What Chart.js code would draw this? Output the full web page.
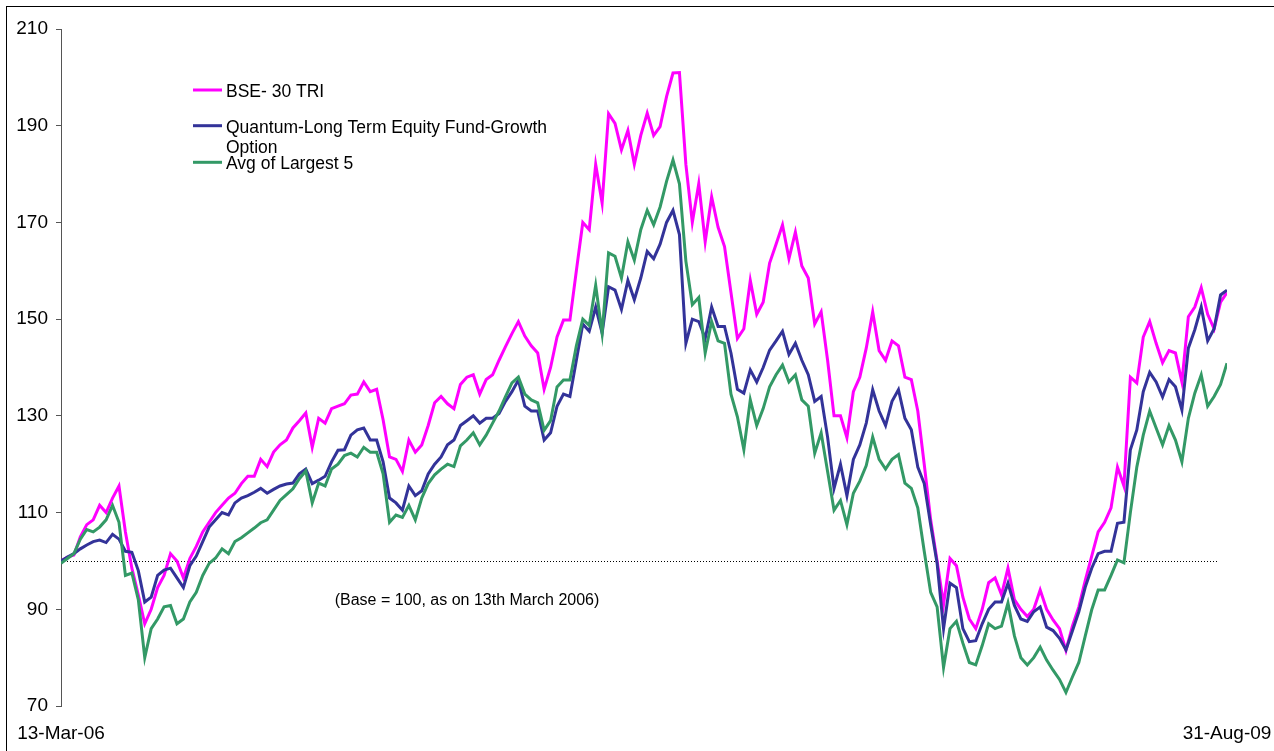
<!DOCTYPE html>
<html>
<head>
<meta charset="utf-8">
<script src="https://cdn.jsdelivr.net/npm/chart.js@4.4.1/dist/chart.umd.min.js"></script>
<style>
html, body { margin: 0; padding: 0; background: #fff; }
</style>
</head>
<body>
<canvas id="navChart" width="1274" height="751"></canvas>
<script>
// weekly index values, 13-Mar-06 .. 31-Aug-09 (base = 100)
const xTickLabels = ["13-Mar-06", "31-Aug-09"];

const seriesNames = [
  "BSE- 30 TRI",
  "Quantum-Long Term Equity Fund-Growth Option",
  "Avg of Largest 5"
];

const bse = [
  100, 100.8, 101.2, 105, 107.5, 108.5, 111.5, 110, 113, 115.5,
  106, 98.5, 93, 87, 90, 94.5, 97, 101.5, 100, 96.5,
  100.5, 103, 106, 108, 110, 111.5, 113, 114, 116, 117.5,
  117.5, 121, 119.5, 122.5, 124, 125, 127.5, 129, 130.6, 123.5,
  129.5, 128.5, 131.5, 132, 132.5, 134.3, 134.5, 137, 135, 135.5,
  129.2, 121.5, 121, 118.5, 125, 122.5, 124, 128, 132.7, 134,
  132.5, 131.5, 136.5, 138, 138.5, 134.5, 137.5, 138.5, 141.5, 144.3,
  147, 149.5, 146.5, 144.5, 143, 135.5, 140, 146.3, 149.8, 149.8,
  160, 170, 168.5, 182, 174, 192.5, 190.5, 185, 189, 182,
  188, 192.6, 188, 189.8, 196, 200.9, 201, 182, 170, 178,
  166, 175.3, 169, 165, 155.5, 146, 148, 158, 151, 153.5,
  161.6, 165.5, 169.5, 162.5, 168, 161, 158.5, 149, 151.5, 141.5,
  130, 130, 125.5, 135, 138, 144, 151.5, 143.5, 141.5, 145.5,
  144.5, 138, 137.5, 131, 120, 108.5, 100, 91, 100.5, 99,
  92.5, 88, 86, 90, 95.5, 96.5, 93, 98.5, 92, 90,
  88.5, 90, 94, 90, 87.8, 86, 81.5, 86.5, 90.5, 96,
  101, 106, 108, 111, 119.4, 115.5, 138, 136.8, 146.3, 149.5,
  145, 141, 143.5, 143, 137, 150.5, 152.5, 156.5, 151, 148,
  153.5, 155.5
];

const quantum = [
  100, 100.8, 101.5, 102.5, 103.3, 104, 104.3, 103.8, 105.5, 104.5,
  102, 101.8, 98, 91.5, 92.5, 97, 98.1, 98.5, 96.5, 94.5,
  99, 101, 104, 107, 108.5, 110, 109.5, 112, 113, 113.5,
  114.2, 115, 114, 114.8, 115.5, 115.9, 116.1, 118, 119, 116,
  116.7, 117.5, 120.5, 122.9, 123, 126, 127.1, 127.5, 125, 125,
  120.5, 113, 112, 110.5, 115.5, 113.5, 114.5, 118, 120, 121.5,
  124, 125, 128, 129, 130, 128.5, 129.5, 129.5, 130.5, 133,
  135, 137.4, 132, 131, 131, 125, 126.5, 132, 134.5, 134,
  141.5, 149, 147.5, 152.5, 147.1, 156.7, 156, 152, 158, 154,
  158.5, 164, 162.5, 165.5, 170, 172.5, 167.5, 145, 150, 149.5,
  146, 152.5, 148.5, 148.5, 143, 135.5, 134.7, 139.5, 137, 140,
  143.6, 145.5, 147.5, 142.7, 145, 141.5, 138.5, 133, 134, 125.6,
  115, 120, 113.5, 121, 124, 128.5, 135.4, 131, 128, 133,
  135.4, 129.5, 127.1, 119.4, 116, 107.5, 99.5, 86, 95.4, 94.5,
  86, 83.3, 83.5, 87, 90, 91.5, 91.5, 95.4, 90.8, 88,
  87.5, 89.5, 90.5, 86.3, 85.6, 84, 81.6, 85.5, 89.5, 94.6,
  98.5, 101.5, 102, 102, 107.8, 108, 123, 127.1, 135, 139,
  137, 133.9, 137.5, 136, 131.2, 144, 147.8, 152.5, 145.5, 148,
  155, 156
];

const largest5 = [
  99.5, 100.5, 101.5, 104.5, 106.5, 106, 107, 108.5, 111.5, 108,
  97, 97.5, 92, 80, 86, 88, 90.5, 90.8, 87, 88,
  91.5, 93.5, 97, 99.5, 100.6, 102.5, 101.5, 104, 104.8, 105.8,
  106.8, 107.9, 108.5, 110.5, 112.5, 113.7, 114.9, 117, 118.6, 112,
  116.1, 115.5, 119, 120, 121.8, 122.3, 121.5, 123.5, 122.5, 122.5,
  118, 108, 109.5, 109, 111.5, 108.5, 113, 116, 117.8, 119,
  120, 119.5, 123.8, 125, 126.5, 124, 126, 128.5, 131, 134,
  136.8, 138, 134.5, 133.3, 132.7, 127, 129, 136, 137.4, 137.4,
  144.5, 150, 148.7, 157, 147.1, 163.7, 163, 158.5, 166, 162.2,
  168.5, 172.5, 169.5, 173.2, 178.5, 182.9, 178, 162, 153, 154.5,
  143, 149.5, 145.5, 145, 134.5, 129.8, 123, 133.3, 128, 131.5,
  136, 138.5, 140.5, 137, 138.5, 133.3, 132, 122.3, 126.5, 118.5,
  110.5, 112.5, 107.5, 114, 116.5, 119.7, 125.6, 121, 119, 121,
  122, 116.1, 115, 111, 102, 93.5, 90.5, 78, 86, 87.5,
  83, 79, 78.5, 82.5, 87, 86, 86.5, 91.3, 84.5, 80,
  78.5, 80, 82.2, 79.5, 77.4, 75.5, 72.8, 76, 79, 84.5,
  89.9, 94, 94, 97, 100.2, 99.6, 110, 119.4, 126, 131,
  127.5, 124, 128, 125, 120.5, 129.5, 134.7, 138.5, 132, 134,
  136.5, 140.9
];

const yTicks = { min: 70, max: 210, step: 20 };
const BASE_VALUE = 100;
const BASE_END = 179.6; // dotted base line stops a little short of the last week
const NOTE = "(Base = 100, as on 13th March 2006)";

const FONT = 'Arial, "Liberation Sans", sans-serif';
const colors = ["#FF00FF", "#333399", "#339966"];

const lastIdx = bse.length - 1;
const toPoints = arr => arr.map((v, i) => ({ x: i, y: v }));

const decor = {
  id: "decor",
  beforeDraw(chart) {
    const c = chart.ctx;
    c.save();
    c.strokeStyle = "#000";
    c.lineWidth = 1;
    c.strokeRect(6.5, 6.5, chart.width, chart.height);
    c.restore();
  },
  beforeDatasetsDraw(chart) {
    const c = chart.ctx;
    const xs = chart.scales.x, ys = chart.scales.y;
    const y = Math.round(ys.getPixelForValue(BASE_VALUE)) + 0.5;
    c.save();
    c.strokeStyle = "#000";
    c.lineWidth = 1;
    c.setLineDash([1, 2]);
    c.beginPath();
    c.moveTo(chart.chartArea.left, y);
    c.lineTo(xs.getPixelForValue(BASE_END), y);
    c.stroke();
    c.restore();
  },
  afterDraw(chart) {
    const c = chart.ctx;
    c.save();
    // legend
    const rows = [90, 125.7, 162.3];
    c.font = "17.5px " + FONT;
    c.fillStyle = "#000";
    c.textBaseline = "middle";
    chart.data.datasets.forEach((ds, i) => {
      const y = rows[i];
      c.strokeStyle = ds.borderColor;
      c.lineWidth = 3;
      c.beginPath();
      c.moveTo(193, y);
      c.lineTo(222, y);
      c.stroke();
      // wrap long names
      const words = ds.label.split(" ");
      let line = "", lines = [];
      words.forEach(w => {
        const t = line ? line + " " + w : w;
        if (c.measureText(t).width > 330 && line) { lines.push(line); line = w; }
        else line = t;
      });
      lines.push(line);
      lines.forEach((l, k) => c.fillText(l, 226, y + 2 + k * 20.6));
    });
    // note
    c.font = "16px " + FONT;
    c.textAlign = "center";
    c.fillText(NOTE, 467, 601);
    c.restore();
  }
};

new Chart(document.getElementById("navChart"), {
  type: "line",
  data: {
    datasets: [bse, quantum, largest5].map((arr, i) => ({
      label: seriesNames[i],
      data: toPoints(arr),
      borderColor: colors[i],
      backgroundColor: colors[i],
      borderWidth: 3,
      pointRadius: 0,
      tension: 0,
      order: 3 - i
    }))
  },
  options: {
    responsive: false,
    animation: false,
    layout: { padding: { top: 29, right: 47, left: 0, bottom: 0 } },
    plugins: {
      legend: { display: false },
      tooltip: { enabled: false }
    },
    scales: {
      x: {
        type: "linear",
        min: 0,
        max: lastIdx,
        grid: { display: false, drawTicks: false },
        border: { display: false },
        afterBuildTicks: s => { s.ticks = [{ value: 0 }, { value: lastIdx }]; },
        afterFit: s => {
          s.height = 45;
          s.paddingLeft = 0;
          s.paddingRight = 0;
        },
        ticks: {
          autoSkip: false,
          maxRotation: 0,
          padding: 16,
          color: "#000",
          font: { family: FONT, size: 19 },
          callback: (v, i) => xTickLabels[i]
        }
      },
      y: {
        min: yTicks.min,
        max: yTicks.max,
        afterFit: s => { s.width = 61; },
        grid: { drawOnChartArea: false, drawTicks: true, tickLength: 5, color: "#555" },
        border: { display: true, color: "#555" },
        ticks: {
          stepSize: yTicks.step,
          padding: 8,
          color: "#000",
          font: { family: FONT, size: 19 }
        }
      }
    }
  },
  plugins: [decor]
});
</script>
</body>
</html>
